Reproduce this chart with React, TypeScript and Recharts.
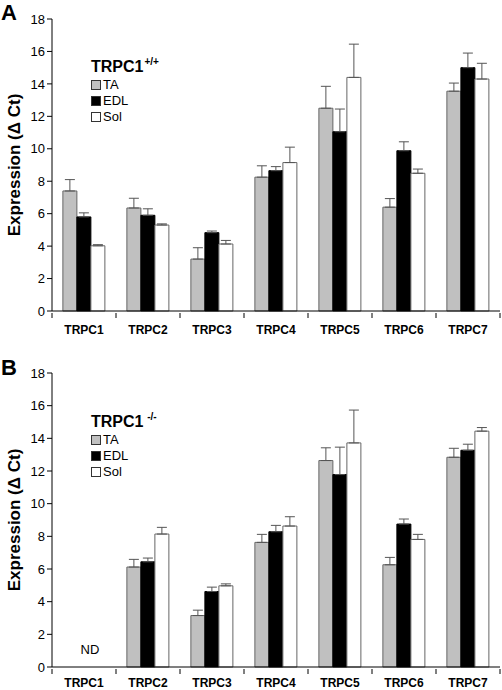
import React from "react";
import {
  BarChart,
  Bar,
  XAxis,
  YAxis,
  ErrorBar,
  Legend,
  ReferenceDot,
} from "recharts";

const categories = ["TRPC1", "TRPC2", "TRPC3", "TRPC4", "TRPC5", "TRPC6", "TRPC7"];
const yTicks = [0, 2, 4, 6, 8, 10, 12, 14, 16, 18];

// Panel A: TRPC1 +/+
const wtTA = [7.4, 6.35, 3.2, 8.25, 12.5, 6.4, 13.55];
const wtTAErr = [0.7, 0.6, 0.7, 0.7, 1.35, 0.53, 0.5];
const wtEDL = [5.8, 5.9, 4.83, 8.65, 11.05, 9.88, 15.0];
const wtEDLErr = [0.25, 0.4, 0.1, 0.25, 1.4, 0.55, 0.9];
const wtSol = [4.02, 5.3, 4.13, 9.15, 14.4, 8.49, 14.3];
const wtSolErr = [0.07, 0.07, 0.22, 0.95, 2.05, 0.26, 0.97];

// Panel B: TRPC1 -/- (TRPC1 not detected)
const koTA = [null, 6.12, 3.15, 7.63, 12.64, 6.26, 12.84];
const koTAErr = [null, 0.47, 0.33, 0.49, 0.78, 0.45, 0.55];
const koEDL = [null, 6.44, 4.62, 8.28, 11.78, 8.75, 13.27];
const koEDLErr = [null, 0.23, 0.27, 0.39, 1.68, 0.31, 0.37];
const koSol = [null, 8.14, 4.97, 8.63, 13.72, 7.81, 14.44];
const koSolErr = [null, 0.41, 0.12, 0.57, 2.01, 0.31, 0.22];

const series = [
  { key: "TA", fill: "#c0c0c0", stroke: "#666666" },
  { key: "EDL", fill: "#000000", stroke: "#000000" },
  { key: "Sol", fill: "#ffffff", stroke: "#666666" },
];

const FONT = '"Liberation Sans", Arial, Helvetica, sans-serif';

function buildRows(
  ta: (number | null)[],
  taErr: (number | null)[],
  edl: (number | null)[],
  edlErr: (number | null)[],
  sol: (number | null)[],
  solErr: (number | null)[]
) {
  return categories.map((c, i) => ({
    name: c,
    TA: ta[i],
    TAErr: taErr[i] == null ? null : [0, taErr[i]],
    EDL: edl[i],
    EDLErr: edlErr[i] == null ? null : [0, edlErr[i]],
    Sol: sol[i],
    SolErr: solErr[i] == null ? null : [0, solErr[i]],
  }));
}

// category labels centred, tick marks on the category boundaries
const XTick = (props: any) => {
  const { x, y, payload, index, visibleTicksCount, labelGap } = props;
  const off = payload && payload.offset ? payload.offset : 32;
  const last = index === visibleTicksCount - 1;
  return (
    <g>
      <line x1={x - off} y1={y} x2={x - off} y2={y + 5} stroke="#000" />
      {last && <line x1={x + off} y1={y} x2={x + off} y2={y + 5} stroke="#000" />}
      <text
        x={x}
        y={y + labelGap}
        dy="0.35em"
        textAnchor="middle"
        fontSize={12}
        fontWeight="bold"
        fontFamily={FONT}
        fill="#000"
      >
        {payload.value}
      </text>
    </g>
  );
};

const makeLegend = (sup: string) => () =>
  (
    <div style={{ fontFamily: FONT, color: "#000" }}>
      <div style={{ fontSize: 16, fontWeight: "bold", lineHeight: "20px", whiteSpace: "pre" }}>
        TRPC1
        <span style={{ fontSize: 10, verticalAlign: 7, marginLeft: 1 }}>{sup}</span>
      </div>
      {series.map((s) => (
        <div
          key={s.key}
          style={{ display: "flex", alignItems: "center", fontSize: 13, lineHeight: "16px" }}
        >
          <span
            style={{
              display: "inline-block",
              width: 8,
              height: 8,
              background: s.fill,
              border: "1px solid #333",
              marginRight: 2,
            }}
          />
          {s.key}
        </div>
      ))}
    </div>
  );

const YLabel = (props: any) => {
  const { viewBox } = props;
  const cy = viewBox.y + viewBox.height / 2;
  return (
    <text
      x={14}
      y={cy}
      transform={`rotate(-90, 14, ${cy})`}
      textAnchor="middle"
      dominantBaseline="central"
      fontSize={17}
      fontWeight="bold"
      fontFamily={FONT}
      fill="#000"
    >
      Expression (Δ Ct)
    </text>
  );
};

function Panel({
  data,
  height,
  top,
  bottom,
  axisHeight,
  labelGap,
  sup,
  legendTop,
  showND,
}: {
  data: any[];
  height: number;
  top: number;
  bottom: number;
  axisHeight: number;
  labelGap: number;
  sup: string;
  legendTop: number;
  showND?: boolean;
}) {
  return (
    <BarChart
      width={502}
      height={height}
      data={data}
      margin={{ top, right: 2, left: 0, bottom }}
      barCategoryGap="17%"
      barGap={0}
    >
      <XAxis
        dataKey="name"
        height={axisHeight}
        axisLine={{ stroke: "#000" }}
        tickLine={false}
        tickSize={0}
        tick={<XTick labelGap={labelGap} />}
        interval={0}
      />
      <YAxis
        width={52}
        domain={[0, 18]}
        ticks={yTicks}
        interval={0}
        axisLine={{ stroke: "#000" }}
        tickLine={{ stroke: "#000" }}
        tickSize={5}
        tick={{ fontSize: 13, fill: "#000", fontFamily: FONT }}
        label={<YLabel />}
      />
      <Legend
        layout="horizontal"
        verticalAlign="middle"
        align="center"
        content={makeLegend(sup)}
        wrapperStyle={{ top: legendTop, left: 91, width: 90, height: 72 }}
      />
      {series.map((s) => (
        <Bar
          key={s.key}
          dataKey={s.key}
          fill={s.fill}
          stroke={s.stroke}
          strokeWidth={1}
          isAnimationActive={false}
        >
          <ErrorBar
            dataKey={`${s.key}Err`}
            width={5}
            stroke="#555"
            strokeWidth={1}
            direction="y"
          />
        </Bar>
      ))}
      {showND && (
        <ReferenceDot
          x="TRPC1"
          y={1.1}
          r={0}
          shape={(p: any) => (
            <text
              x={p.cx + 6}
              y={p.cy}
              dy="0.35em"
              textAnchor="middle"
              fontSize={13}
              fontFamily={FONT}
              fill="#000000"
            >
              ND
            </text>
          )}
        />
      )}
    </BarChart>
  );
}

export default function App() {
  const dataA = buildRows(wtTA, wtTAErr, wtEDL, wtEDLErr, wtSol, wtSolErr);
  const dataB = buildRows(koTA, koTAErr, koEDL, koEDLErr, koSol, koSolErr);
  const letter: React.CSSProperties = {
    position: "absolute",
    left: 1,
    fontFamily: FONT,
    fontWeight: "bold",
    fontSize: 22,
    lineHeight: "22px",
  };
  return (
    <div
      style={{
        position: "absolute",
        left: 0,
        top: 0,
        width: 502,
        height: 690,
        background: "#fff",
        fontFamily: FONT,
      }}
    >
      <div style={{ position: "absolute", left: 0, top: 0 }}>
        <Panel
          data={dataA}
          height={345}
          top={19}
          bottom={10}
          axisHeight={24}
          labelGap={17}
          sup="+/+"
          legendTop={52}
        />
      </div>
      <div style={{ position: "absolute", left: 0, top: 345 }}>
        <Panel
          data={dataB}
          height={345}
          top={28}
          bottom={0}
          axisHeight={23}
          labelGap={14}
          sup=" -/-"
          legendTop={62}
          showND
        />
      </div>
      <div style={{ ...letter, top: 2 }}>A</div>
      <div style={{ ...letter, top: 357 }}>B</div>
    </div>
  );
}
